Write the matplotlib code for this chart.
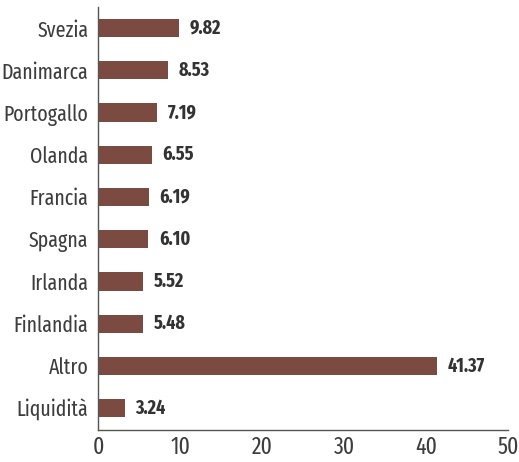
import matplotlib
matplotlib.use('Agg')
import matplotlib.pyplot as plt

# Dati
paesi = ['Svezia', 'Danimarca', 'Portogallo', 'Olanda', 'Francia',
         'Spagna', 'Irlanda', 'Finlandia', 'Altro', 'Liquidità']
pesi = [9.82, 8.53, 7.19, 6.55, 6.19, 6.10, 5.52, 5.48, 41.37, 3.24]
xticks = [0, 10, 20, 30, 40, 50]

plt.rcParams['font.family'] = ['Fira Sans Extra Condensed', 'Fira Sans Condensed', 'DejaVu Sans']

col_bar = '#7b4a40'
col_txt = '#333333'
col_tick = '#3d3d3d'

fig = plt.figure(figsize=(5.19, 4.62), dpi=100)
ax = fig.add_axes([0.189, 0.069, 0.79, 0.916])

y = list(range(len(paesi)))
ax.barh(y, pesi, height=0.43, color=col_bar)
for yi, v in zip(y, pesi):
    ax.text(v + 1.3, yi, f'{v:.2f}', va='center', ha='left',
            fontsize=14, fontweight='bold', color=col_txt)

ax.set_ylim(9.52, -0.5)
ax.set_xlim(0, 50)
ax.set_yticks(y)
ax.set_yticklabels(paesi, fontsize=15.5, color=col_tick)
ax.set_xticks(xticks)
ax.set_xticklabels([str(t) for t in xticks], fontsize=17, color=col_tick)
ax.tick_params(length=0, pad=7)
ax.tick_params(axis='x', pad=4)
for s in ['top', 'right']:
    ax.spines[s].set_visible(False)
for s in ['left', 'bottom']:
    ax.spines[s].set_color('#555555')
    ax.spines[s].set_linewidth(1.0)

fig.savefig('out.png', dpi=100)
